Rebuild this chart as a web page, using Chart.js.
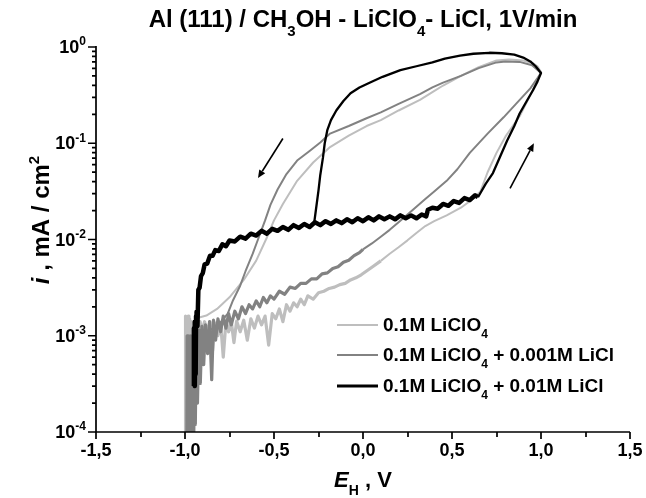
<!DOCTYPE html>
<html><head><meta charset="utf-8">
<style>html,body{margin:0;padding:0;background:#fff}#wrap{width:646px;height:498px}canvas{display:block}</style>
<script src="https://cdn.jsdelivr.net/npm/chart.js@4.4.0/dist/chart.umd.min.js"></script>
</head><body><div id="wrap"><canvas id="c" width="646" height="498"></canvas></div>
<script>
// ---------- DATA (E in V, i in mA/cm2) ----------
const xTicks = [-1.5, -1.0, -0.5, 0.0, 0.5, 1.0, 1.5];
const xTickLabels = ['-1,5', '-1,0', '-0,5', '0,0', '0,5', '1,0', '1,5'];
const xMinorTicks = [-1.25, -0.75, -0.25, 0.25, 0.75, 1.25];
const yTickValues = [1, 0.1, 0.01, 0.001, 0.0001];
const yTickExponents = ['0', '-1', '-2', '-3', '-4'];

// 0.1M LiClO4 + 0.01M LiCl (black)
const blackLowE = [-0.952,-0.95,-0.948,-0.946,-0.944,-0.942,-0.94,-0.938,-0.935,-0.93,-0.925,-0.918,-0.91,-0.9,-0.89,-0.875,-0.86,-0.845,-0.83,-0.81,-0.79,-0.77,-0.75,-0.72,-0.69,-0.66,-0.63,-0.6,-0.57,-0.54,-0.51,-0.48,-0.45,-0.42,-0.39,-0.36,-0.33,-0.3,-0.27,-0.24,-0.21,-0.18,-0.15,-0.12,-0.09,-0.06,-0.03,0,0.03,0.06,0.09,0.12,0.15,0.18,0.21,0.24,0.27,0.3,0.33,0.355,0.365,0.39,0.42,0.45,0.48,0.51,0.54,0.57,0.6,0.63,0.646];
const blackLowI = [0.0003,0.0012,0.00032,0.0014,0.0003,0.0011,0.0004,0.0016,0.00178,0.00126,0.003,0.00316,0.00417,0.00447,0.0055,0.00562,0.00676,0.00676,0.00776,0.00759,0.00891,0.00851,0.00977,0.00955,0.0107,0.0102,0.0115,0.011,0.0123,0.0115,0.0129,0.0123,0.0135,0.0126,0.0141,0.0132,0.0145,0.0135,0.0151,0.0141,0.0155,0.0145,0.0158,0.0148,0.0162,0.0151,0.0166,0.0155,0.017,0.0158,0.0174,0.0162,0.0174,0.0162,0.0178,0.0166,0.0178,0.0166,0.0182,0.0174,0.0204,0.0214,0.0209,0.0234,0.0224,0.0251,0.024,0.0269,0.0257,0.0288,0.0275];
const blackUpE = [0.646,0.69,0.73,0.77,0.81,0.85,0.88,0.92,0.955,0.98,1.0];
const blackUpI = [0.0275,0.038,0.049,0.0724,0.107,0.151,0.204,0.275,0.355,0.437,0.537];
const blackRevE = [0.97,0.94,0.9,0.85,0.78,0.71,0.62,0.545,0.46,0.39,0.3,0.21,0.11,0.04,-0.02,-0.07,-0.11,-0.15,-0.18,-0.2,-0.215,-0.225,-0.24,-0.25,-0.265,-0.275];
const blackRevI = [0.631,0.708,0.776,0.832,0.861,0.871,0.851,0.813,0.759,0.692,0.631,0.575,0.49,0.427,0.38,0.331,0.275,0.219,0.174,0.138,0.1,0.0708,0.0468,0.0324,0.02,0.0145];

// 0.1M LiClO4 + 0.001M LiCl (mid grey)
const midLowE = [-0.99,-0.988,-0.986,-0.984,-0.982,-0.98,-0.978,-0.976,-0.974,-0.972,-0.97,-0.968,-0.966,-0.964,-0.962,-0.96,-0.958,-0.956,-0.954,-0.952,-0.95,-0.946,-0.942,-0.936,-0.93,-0.922,-0.914,-0.905,-0.895,-0.885,-0.873,-0.862,-0.85,-0.84,-0.828,-0.815,-0.8,-0.785,-0.77,-0.755,-0.74,-0.72,-0.7,-0.68,-0.66,-0.64,-0.62,-0.6,-0.58,-0.56,-0.54,-0.52,-0.5,-0.47,-0.44,-0.41,-0.38,-0.35,-0.32,-0.29,-0.26,-0.23,-0.2,-0.17,-0.14,-0.11,-0.08,-0.05,-0.02,0.0];
const midLowI = [0.00005,0.001,0.00005,0.0009,0.00005,0.001,0.00005,0.0008,0.00005,0.0009,0.00005,0.001,0.00005,0.0009,0.00005,0.00095,0.00005,0.001,0.00006,0.0009,0.00008,0.001,0.00012,0.0011,0.0002,0.00115,0.00032,0.00125,0.0005,0.0013,0.00065,0.0014,0.00035,0.00145,0.0009,0.0015,0.0011,0.0016,0.0012,0.0017,0.0013,0.0018,0.0015,0.002,0.0017,0.0021,0.0019,0.0023,0.002,0.0025,0.0022,0.0026,0.0024,0.0029,0.0027,0.0032,0.0031,0.0035,0.0035,0.0039,0.0039,0.0044,0.0045,0.005,0.0052,0.0058,0.0061,0.0068,0.0073,0.0079];
const midUpE = [0.0,0.05,0.1,0.15,0.2,0.25,0.3,0.35,0.4,0.47,0.53,0.6,0.7,0.79,0.87,0.94,1.0];
const midUpI = [0.0079,0.0091,0.0107,0.0126,0.0151,0.0182,0.0219,0.0263,0.0316,0.0407,0.0537,0.0794,0.126,0.186,0.269,0.372,0.537];
const midRevE = [0.95,0.88,0.8,0.75,0.65,0.55,0.45,0.39,0.32,0.2,0.1,0.02,-0.08,-0.185,-0.24,-0.3,-0.37,-0.43,-0.48,-0.52,-0.55,-0.59,-0.62,-0.66,-0.69,-0.73,-0.76,-0.8,-0.85,-0.9];
const midRevI = [0.646,0.7,0.708,0.692,0.603,0.501,0.427,0.38,0.324,0.257,0.209,0.182,0.151,0.126,0.102,0.0832,0.0661,0.0479,0.0331,0.0229,0.0158,0.01,0.00708,0.00468,0.00331,0.00234,0.0017,0.00138,0.00117,0.00105];

// 0.1M LiClO4 (light grey)
const lightLowE = [-1.0,-0.997,-0.994,-0.99,-0.986,-0.982,-0.978,-0.974,-0.97,-0.965,-0.96,-0.952,-0.944,-0.935,-0.925,-0.915,-0.905,-0.89,-0.875,-0.86,-0.845,-0.83,-0.815,-0.8,-0.785,-0.77,-0.755,-0.74,-0.725,-0.71,-0.69,-0.67,-0.65,-0.63,-0.61,-0.59,-0.57,-0.55,-0.53,-0.51,-0.49,-0.47,-0.45,-0.43,-0.41,-0.39,-0.37,-0.35,-0.33,-0.31,-0.28,-0.25,-0.22,-0.19,-0.16,-0.13,-0.1,-0.07,-0.04,-0.01,0.02,0.06,0.1];
const lightLowI = [0.00005,0.0016,0.00005,0.0014,0.00005,0.0016,0.0001,0.0015,0.00012,0.0014,0.0003,0.0014,0.0005,0.0015,0.0008,0.0014,0.0011,0.0014,0.0011,0.0014,0.0007,0.00135,0.001,0.00138,0.0006,0.0014,0.0011,0.0014,0.00085,0.00142,0.0011,0.00145,0.0009,0.0015,0.0012,0.0016,0.0013,0.0016,0.0008,0.0017,0.0015,0.0019,0.0014,0.0021,0.0018,0.0022,0.002,0.0024,0.0021,0.0026,0.0024,0.0028,0.0029,0.0031,0.0032,0.0034,0.0035,0.0038,0.004,0.0043,0.0047,0.0053,0.006];
const lightUpE = [0.1,0.15,0.2,0.25,0.3,0.35,0.4,0.47,0.55,0.6,0.66,0.7,0.75,0.8,0.88,0.94,0.98,1.0];
const lightUpI = [0.006,0.0071,0.0083,0.0098,0.0117,0.0138,0.0155,0.0178,0.0214,0.025,0.0316,0.05,0.0794,0.117,0.191,0.316,0.457,0.55];
const lightRevE = [0.98,0.955,0.9,0.82,0.75,0.65,0.55,0.45,0.39,0.32,0.2,0.1,0.02,-0.08,-0.185,-0.28,-0.37,-0.45,-0.5,-0.54,-0.6,-0.67,-0.75,-0.82,-0.88,-0.94];
const lightRevI = [0.631,0.676,0.724,0.741,0.724,0.617,0.501,0.398,0.339,0.282,0.219,0.174,0.151,0.12,0.0912,0.0631,0.0407,0.0234,0.0158,0.0105,0.00603,0.0038,0.00251,0.0019,0.00162,0.00151];

// direction arrows (tail -> head), data units
const arrowTailE = [-0.45, 0.826];
const arrowTailI = [0.112, 0.034];
const arrowHeadE = [-0.59, 0.96];
const arrowHeadI = [0.0435, 0.1];

const legendMain = ['0.1M LiClO', '0.1M LiClO', '0.1M LiClO'];
const legendSub = ['4', '4', '4'];
const legendTail = ['', ' + 0.001M LiCl', ' + 0.01M LiCl'];

// ---------- STYLE ----------
const FONT = '"Liberation Sans", Arial, Helvetica, sans-serif';
const BLACK = '#000000', MID = '#828282', LIGHT = '#bebebe';
const legendColors = [LIGHT, MID, BLACK];
const legendWidths = [2, 2.2, 3];

function pts(E, I) { return E.map((e, k) => ({ x: e, y: I[k] })); }
function ds(data, color, w) {
  return { data, borderColor: color, backgroundColor: color, borderWidth: w, showLine: true,
           pointRadius: 0, pointHoverRadius: 0, tension: 0, fill: false, borderJoinStyle: 'round' };
}

function fontFor(kind, size) {
  if (kind === 'i') return `italic bold ${size}px ${FONT}`;
  if (kind === 'sub' || kind === 'sup') return `bold ${Math.round(size * 0.64)}px ${FONT}`;
  return `bold ${size}px ${FONT}`;
}
function richWidth(ctx, parts, size) {
  let w = 0;
  parts.forEach(p => { ctx.font = fontFor(p[1], size); w += ctx.measureText(p[0]).width; });
  return w;
}
function drawRich(ctx, parts, x, y, align, size) {
  const w = richWidth(ctx, parts, size);
  let cx = align === 'center' ? x - w / 2 : (align === 'right' ? x - w : x);
  ctx.textAlign = 'left'; ctx.textBaseline = 'alphabetic';
  parts.forEach(p => {
    ctx.font = fontFor(p[1], size);
    let dy = 0;
    if (p[1] === 'sub') dy = size * 0.38;
    if (p[1] === 'sup') dy = -size * 0.42;
    ctx.fillText(p[0], cx, y + dy);
    cx += ctx.measureText(p[0]).width;
  });
}

const decor = {
  id: 'decor',
  afterDatasetsDraw(chart) {
    const { ctx, chartArea: a, scales } = chart;
    const x = scales.x, y = scales.y;
    ctx.save();
    ctx.strokeStyle = '#000'; ctx.fillStyle = '#000'; ctx.lineWidth = 1.7; ctx.lineCap = 'butt';
    ctx.beginPath(); ctx.moveTo(a.left, a.top - 1); ctx.lineTo(a.left, a.bottom); ctx.lineTo(a.right, a.bottom); ctx.stroke();
    ctx.beginPath();
    xTicks.forEach(v => { const p = Math.round(x.getPixelForValue(v)); ctx.moveTo(p, a.bottom); ctx.lineTo(p, a.bottom + 7); });
    xMinorTicks.forEach(v => { const p = Math.round(x.getPixelForValue(v)); ctx.moveTo(p, a.bottom); ctx.lineTo(p, a.bottom + 5); });
    yTickValues.forEach(v => { const p = y.getPixelForValue(v); ctx.moveTo(a.left - 8, p); ctx.lineTo(a.left, p); });
    for (let d = 1; d < yTickValues.length; d++) {
      const base = yTickValues[d];
      for (let m = 2; m <= 9; m++) { const p = y.getPixelForValue(base * m); ctx.moveTo(a.left - 4, p); ctx.lineTo(a.left, p); }
    }
    ctx.stroke();
    ctx.textAlign = 'center'; ctx.textBaseline = 'alphabetic'; ctx.font = `bold 18px ${FONT}`;
    xTicks.forEach((v, k) => ctx.fillText(xTickLabels[k], x.getPixelForValue(v), a.bottom + 24));
    yTickValues.forEach((v, k) => {
      const p = y.getPixelForValue(v);
      drawRich(ctx, [['10', 'n'], [yTickExponents[k], 'sup']], a.left - 10, p + 6, 'right', 18);
    });
    drawRich(ctx, [['E', 'i'], ['H', 'sub'], [' , V', 'n']], (a.left + a.right) / 2, 487, 'center', 22);
    ctx.save();
    ctx.translate(49, 220); ctx.rotate(-Math.PI / 2);
    drawRich(ctx, [['i', 'i'], [' , mA / cm', 'n'], ['2', 'sup']], 0, 0, 'center', 24);
    ctx.restore();
    drawRich(ctx, [['Al (111) / CH', 'n'], ['3', 'sub'], ['OH - LiClO', 'n'], ['4', 'sub'], ['- LiCl, 1V/min', 'n']],
             (a.left + a.right) / 2, 27, 'center', 24);
    ctx.lineWidth = 1.6;
    for (let k = 0; k < arrowTailE.length; k++) {
      const x0 = x.getPixelForValue(arrowTailE[k]), y0 = y.getPixelForValue(arrowTailI[k]);
      const x1 = x.getPixelForValue(arrowHeadE[k]), y1 = y.getPixelForValue(arrowHeadI[k]);
      const ang = Math.atan2(y1 - y0, x1 - x0), L = 8, H = 3.5;
      const bx = x1 - L * Math.cos(ang), by = y1 - L * Math.sin(ang);
      ctx.beginPath(); ctx.moveTo(x0, y0); ctx.lineTo(bx, by); ctx.stroke();
      ctx.beginPath(); ctx.moveTo(x1, y1);
      ctx.lineTo(bx + H * Math.sin(ang), by - H * Math.cos(ang));
      ctx.lineTo(bx - H * Math.sin(ang), by + H * Math.cos(ang));
      ctx.closePath(); ctx.fill();
    }
    const rowY = [325, 355, 386];
    for (let k = 0; k < 3; k++) {
      ctx.strokeStyle = legendColors[k]; ctx.lineWidth = legendWidths[k];
      ctx.beginPath(); ctx.moveTo(337, rowY[k]); ctx.lineTo(378, rowY[k]); ctx.stroke();
      ctx.fillStyle = '#000';
      const parts = [[legendMain[k], 'n'], [legendSub[k], 'sub']];
      if (legendTail[k]) parts.push([legendTail[k], 'n']);
      drawRich(ctx, parts, 383, rowY[k] + 6, 'left', 19);
    }
    ctx.restore();
  }
};

new Chart(document.getElementById('c'), {
  type: 'scatter',
  data: {
    datasets: [
      ds(pts(blackLowE, blackLowI), BLACK, 4.5),
      ds(pts(blackUpE.concat(blackRevE), blackUpI.concat(blackRevI)), BLACK, 2.3),
      ds(pts(midLowE, midLowI), MID, 3.2),
      ds(pts(midUpE.concat(midRevE), midUpI.concat(midRevI)), MID, 2),
      ds(pts(lightLowE, lightLowI), LIGHT, 3.2),
      ds(pts(lightUpE.concat(lightRevE), lightUpI.concat(lightRevI)), LIGHT, 2)
    ]
  },
  options: {
    responsive: false, animation: false, devicePixelRatio: 1,
    layout: { padding: { left: 96, right: 16, top: 47, bottom: 66 } },
    scales: {
      x: { type: 'linear', min: -1.5, max: 1.5, display: false },
      y: { type: 'logarithmic', min: 0.0001, max: 1, display: false }
    },
    plugins: { legend: { display: false }, tooltip: { enabled: false } },
    events: []
  },
  plugins: [decor]
});
</script>
</body></html>
